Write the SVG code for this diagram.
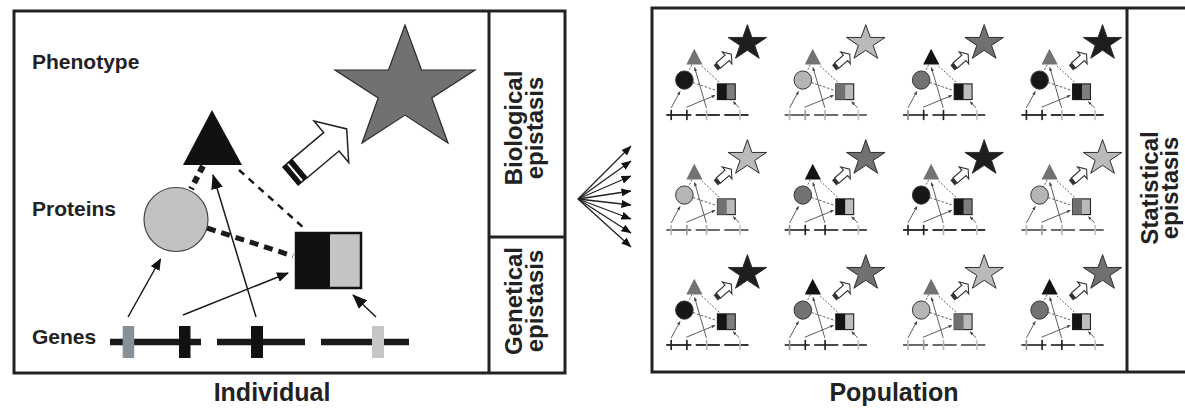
<svg xmlns="http://www.w3.org/2000/svg" width="1185" height="408" viewBox="0 0 1185 408">
<style>
text{font-family:"Liberation Sans",Arial,Helvetica,sans-serif;font-weight:bold;fill:#222}
.lbl{font-size:21px}
.cap{font-size:25px;text-anchor:middle}
.side{font-size:24px;text-anchor:middle}
.frame{fill:none;stroke:#222;stroke-width:3}
.gline{stroke:#1a1a1a;stroke-width:6.5}
.thin{stroke:#1a1a1a;stroke-width:1.5;fill:none}
.fan{stroke:#222;stroke-width:1.3;fill:none}
.m-star{fill:var(--star,#777);stroke:#2a2a2a;stroke-width:3.5}
.m-tri{fill:var(--tri,#777)}
.m-ci{fill:var(--ci,#777);stroke:#333;stroke-width:3.5}
.m-sr{fill:var(--sr,#bbb);stroke:#222;stroke-width:4}
.m-sl{fill:var(--sl,#111)}
.m-gl{stroke:var(--gl,#444);stroke-width:7}
.m-ln{stroke:#555;stroke-width:3.4;fill:none}
.m-g1{fill:var(--g1,#999)}
.m-g2{fill:var(--g2,#999)}
.m-g3{fill:var(--g3,#999)}
.m-g4{fill:var(--g4,#999)}
.tA{--star:#1d1f1f;--tri:#717375;--ci:#171717;--sl:#151515;--sr:#7c7e80;--gl:#333;--g1:#222;--g2:#222;--g3:#b5b7b9;--g4:#c3c5c7}
.tB{--star:#b8babc;--tri:#707274;--ci:#b3b5b7;--sl:#6e7072;--sr:#b8babc;--gl:#6a6a6a;--g1:#b5b7b9;--g2:#9a9c9e;--g3:#b5b7b9;--g4:#c3c5c7}
.tC{--star:#6f7173;--tri:#121212;--ci:#707274;--sl:#141414;--sr:#bcbec0;--gl:#4a4a4a;--g1:#8a8f94;--g2:#222;--g3:#222;--g4:#c3c5c7}
</style>
<defs>
<marker id="ahS" viewBox="0 0 12 10" refX="11" refY="5" markerWidth="12" markerHeight="10" markerUnits="userSpaceOnUse" orient="auto"><path d="M0,0 L12,5 L0,10 z" fill="#111"/></marker>
<marker id="ahL" viewBox="0 0 15 12" refX="14" refY="6" markerWidth="15" markerHeight="12" markerUnits="userSpaceOnUse" orient="auto"><path d="M0,0 L15,6 L0,12 z" fill="#111"/></marker>
<marker id="ahF" viewBox="0 0 10 8" refX="9.5" refY="4" markerWidth="10" markerHeight="8" markerUnits="userSpaceOnUse" orient="auto"><path d="M0,0 L10,4 L0,8 z" fill="#111"/></marker>
<marker id="ahM" viewBox="0 0 4 3.4" refX="3.8" refY="1.7" markerWidth="4" markerHeight="3.4" orient="auto"><path d="M0,0 L4,1.7 L0,3.4 z" fill="#444"/></marker>
<g id="mini">
  <line class="m-ln" x1="239" y1="170" x2="305" y2="229" stroke-dasharray="7 6" stroke-width="4"/>
  <line class="m-ln" x1="203" y1="166" x2="191" y2="189" stroke-dasharray="7 5" stroke-width="6"/>
  <line class="m-ln" x1="207" y1="228" x2="293" y2="256" stroke-dasharray="9 6" stroke-width="5"/>
  <line class="m-ln" x1="128" y1="317" x2="160.5" y2="259" marker-end="url(#ahM)"/>
  <line class="m-ln" x1="183" y1="315" x2="288" y2="273" marker-end="url(#ahM)"/>
  <line class="m-ln" x1="256" y1="317" x2="213" y2="175" marker-end="url(#ahM)"/>
  <line class="m-ln" x1="376" y1="317" x2="353" y2="295" marker-end="url(#ahM)" stroke-width="4"/>
  <polygon class="m-star" points="405,25 421.5,70 475,70 431.8,97.9 448,143 405,115.1 362,143 378.2,97.9 335,70 388.5,70"/>
  <g transform="translate(290,176.5) rotate(-40)">
    <polygon points="12,-12 54,-12 54,-27 74,0 54,27 54,12 12,12" fill="#fff" stroke="#333" stroke-width="4"/>
    <rect x="0" y="-12" width="13" height="24" fill="#333"/>
  </g>
  <polygon class="m-tri" points="212,110 242,165 183,165"/>
  <circle class="m-ci" cx="176" cy="219.5" r="32"/>
  <rect class="m-sr" x="296" y="233" width="65" height="55"/>
  <rect class="m-sl" x="296" y="233" width="34" height="55"/>
  <line class="m-gl" x1="110" y1="342" x2="201" y2="342"/>
  <line class="m-gl" x1="217" y1="342" x2="305" y2="342"/>
  <line class="m-gl" x1="321" y1="342" x2="409" y2="342"/>
  <rect class="m-g1" x="125" y="324" width="6" height="36"/>
  <rect class="m-g2" x="182" y="324" width="6" height="36"/>
  <rect class="m-g3" x="254" y="324" width="6" height="36"/>
  <rect class="m-g4" x="375" y="324" width="6" height="36"/>
</g>
</defs>

<g id="frames">
  <rect class="frame" x="14" y="11" width="551" height="362"/>
  <line class="frame" x1="489" y1="11" x2="489" y2="373"/>
  <line class="frame" x1="489" y1="237" x2="565" y2="237"/>
  <rect class="frame" x="652" y="8" width="540" height="364"/>
  <line class="frame" x1="1127" y1="8" x2="1127" y2="372"/>
</g>

<g id="labels">
  <text class="lbl" x="32" y="69">Phenotype</text>
  <text class="lbl" x="32" y="216">Proteins</text>
  <text class="lbl" x="32" y="344">Genes</text>
  <text class="cap" x="272" y="401">Individual</text>
  <text class="cap" x="894" y="401">Population</text>
</g>

<g id="biological-epistasis">
  <text class="side" transform="translate(522,128) rotate(-90)">Biological</text>
  <text class="side" transform="translate(543,128) rotate(-90)">epistasis</text>
</g>
<g id="genetical-epistasis">
  <text class="side" transform="translate(522,301) rotate(-90)">Genetical</text>
  <text class="side" transform="translate(543,301) rotate(-90)">epistasis</text>
</g>
<g id="statistical-epistasis">
  <text class="side" transform="translate(1158,188) rotate(-90)">Statistical</text>
  <text class="side" transform="translate(1178,188) rotate(-90)">epistasis</text>
</g>

<g id="connectors">
  <line x1="239" y1="170" x2="305" y2="229" stroke="#1a1a1a" stroke-width="2.5" stroke-dasharray="7 6"/>
  <line x1="203" y1="166" x2="191" y2="189" stroke="#1a1a1a" stroke-width="6" stroke-dasharray="7 5"/>
  <line x1="207" y1="228" x2="293" y2="256" stroke="#1a1a1a" stroke-width="5" stroke-dasharray="9 6"/>
  <line class="thin" x1="128" y1="317" x2="160.5" y2="259" marker-end="url(#ahS)"/>
  <line class="thin" x1="183" y1="315" x2="288" y2="273" marker-end="url(#ahS)"/>
  <line class="thin" x1="256" y1="317" x2="213" y2="175" stroke-width="2.5" marker-end="url(#ahL)"/>
  <line class="thin" x1="376" y1="317" x2="353" y2="295" stroke-width="3" marker-end="url(#ahL)"/>
  <g id="fan">
    <line class="fan" x1="578" y1="199" x2="631" y2="146" marker-end="url(#ahF)"/>
    <line class="fan" x1="578" y1="199" x2="631" y2="161" marker-end="url(#ahF)"/>
    <line class="fan" x1="578" y1="199" x2="631" y2="176" marker-end="url(#ahF)"/>
    <line class="fan" x1="578" y1="199" x2="631" y2="191" marker-end="url(#ahF)"/>
    <line class="fan" x1="578" y1="199" x2="631" y2="205" marker-end="url(#ahF)"/>
    <line class="fan" x1="578" y1="199" x2="631" y2="219" marker-end="url(#ahF)"/>
    <line class="fan" x1="578" y1="199" x2="631" y2="233" marker-end="url(#ahF)"/>
    <line class="fan" x1="578" y1="199" x2="631" y2="247" marker-end="url(#ahF)"/>
  </g>
</g>

<g id="phenotype-star">
  <polygon points="405,25 421.5,70 475,70 431.8,97.9 448,143 405,115.1 362,143 378.2,97.9 335,70 388.5,70" fill="#6f7173" stroke="#2a2a2a" stroke-width="1.2"/>
</g>
<g id="block-arrow" transform="translate(290,176.5) rotate(-40)">
  <polygon points="12,-12 54,-12 54,-27 74,0 54,27 54,12 12,12" fill="#fff" stroke="#222" stroke-width="1.5"/>
  <rect x="0" y="-12.5" width="13" height="25" fill="#111"/>
  <rect x="5.5" y="-11" width="2" height="22" fill="#fff"/>
</g>
<g id="protein-triangle">
  <polygon points="212,110 242,165 183,165" fill="#111"/>
</g>
<g id="protein-circle">
  <circle cx="176" cy="219.5" r="32" fill="#c2c2c2" stroke="#444" stroke-width="1.2"/>
</g>
<g id="protein-square">
  <rect x="296" y="233" width="65" height="55" fill="#c4c4c4" stroke="#111" stroke-width="2.5"/>
  <rect x="296" y="233" width="34" height="55" fill="#111"/>
</g>
<g id="genes">
  <line class="gline" x1="110" y1="342" x2="201" y2="342"/>
  <line class="gline" x1="217" y1="342" x2="305" y2="342"/>
  <line class="gline" x1="321" y1="342" x2="409" y2="342"/>
  <rect x="122.7" y="326" width="11.5" height="32" fill="#8a9196"/>
  <rect x="179" y="326" width="11.5" height="32" fill="#111"/>
  <rect x="251" y="326" width="12" height="32" fill="#111"/>
  <rect x="372" y="326" width="12" height="32" fill="#c4c6c8"/>
</g>

<g id="cell-r1c1" class="tA"><use href="#mini" transform="translate(636,17.5) scale(0.275,0.285)"/></g>
<g id="cell-r1c2" class="tB"><use href="#mini" transform="translate(754.4,17.5) scale(0.275,0.285)"/></g>
<g id="cell-r1c3" class="tC"><use href="#mini" transform="translate(872.8,17.5) scale(0.275,0.285)"/></g>
<g id="cell-r1c4" class="tA"><use href="#mini" transform="translate(991.2,17.5) scale(0.275,0.285)"/></g>
<g id="cell-r2c1" class="tB"><use href="#mini" transform="translate(636,132.5) scale(0.275,0.285)"/></g>
<g id="cell-r2c2" class="tC"><use href="#mini" transform="translate(754.4,132.5) scale(0.275,0.285)"/></g>
<g id="cell-r2c3" class="tA"><use href="#mini" transform="translate(872.8,132.5) scale(0.275,0.285)"/></g>
<g id="cell-r2c4" class="tB"><use href="#mini" transform="translate(991.2,132.5) scale(0.275,0.285)"/></g>
<g id="cell-r3c1" class="tA"><use href="#mini" transform="translate(636,247.5) scale(0.275,0.285)"/></g>
<g id="cell-r3c2" class="tC"><use href="#mini" transform="translate(754.4,247.5) scale(0.275,0.285)"/></g>
<g id="cell-r3c3" class="tB"><use href="#mini" transform="translate(872.8,247.5) scale(0.275,0.285)"/></g>
<g id="cell-r3c4" class="tC"><use href="#mini" transform="translate(991.2,247.5) scale(0.275,0.285)"/></g>
</svg>
